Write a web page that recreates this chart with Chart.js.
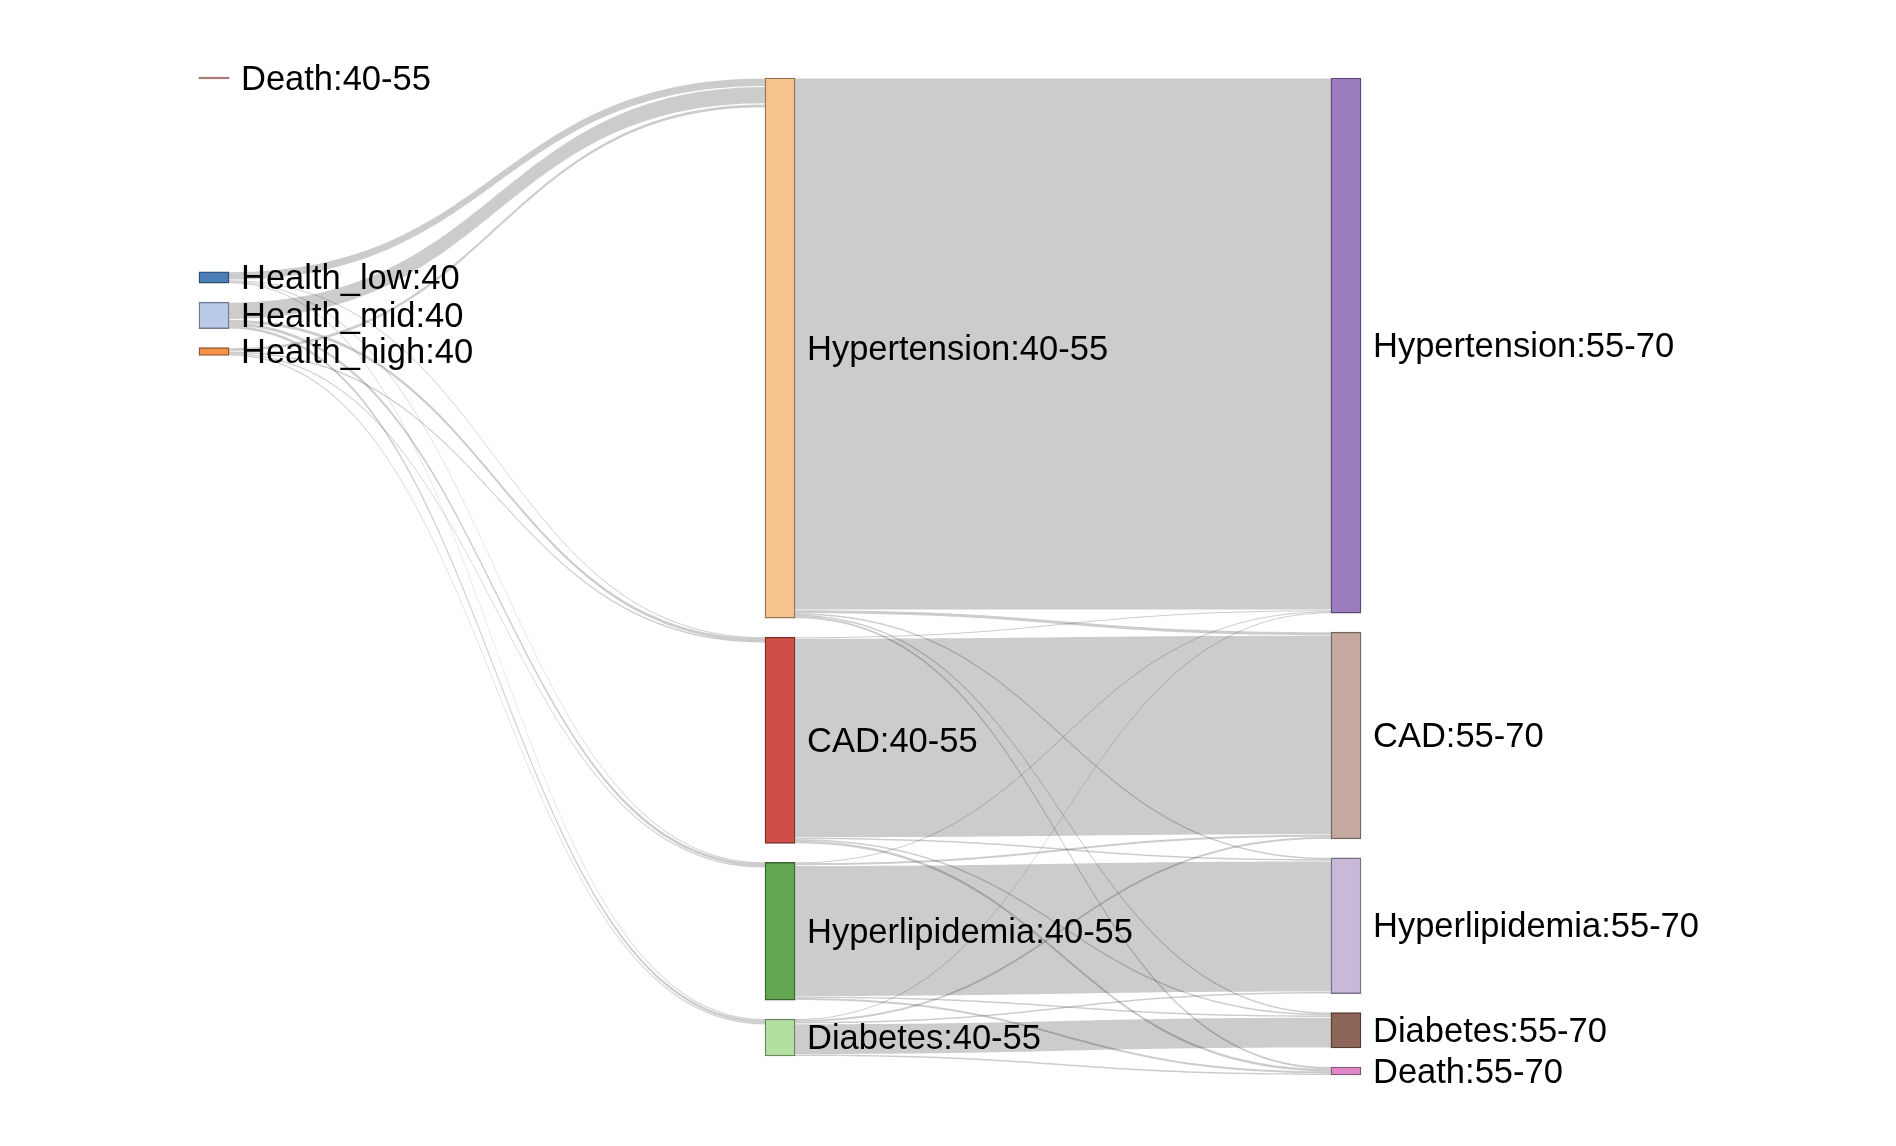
<!DOCTYPE html>
<html>
<head>
<meta charset="utf-8">
<script src="https://cdn.jsdelivr.net/npm/chart.js@4.4.1/dist/chart.umd.min.js"></script>
<style>
html,body{margin:0;padding:0;background:#ffffff;}
canvas{display:block;}
</style>
</head>
<body>
<canvas id="c" width="1896" height="1146"></canvas>
<script>
// ---------------- DATA ----------------
const nodeLabels = [
  'Death:40-55', 'Health_low:40', 'Health_mid:40', 'Health_high:40',
  'Hypertension:40-55', 'CAD:40-55', 'Hyperlipidemia:40-55', 'Diabetes:40-55',
  'Hypertension:55-70', 'CAD:55-70', 'Hyperlipidemia:55-70', 'Diabetes:55-70', 'Death:55-70'
];
const nodeColumns = [0, 0, 0, 0, 1, 1, 1, 1, 2, 2, 2, 2, 2];

const linkSources = [
  1, 1, 1, 1,
  2, 2, 2, 2,
  3, 3, 3, 3,
  4, 4, 4, 4, 4,
  5, 5, 5, 5, 5,
  6, 6, 6, 6, 6,
  7, 7, 7, 7, 7
];
const linkTargets = [
  4, 5, 6, 7,
  4, 5, 6, 7,
  4, 5, 6, 7,
  8, 9, 10, 11, 12,
  8, 9, 10, 11, 12,
  8, 9, 10, 11, 12,
  8, 9, 10, 11, 12
];
const linkValues = [
  8.5, 1, 1, 1,
  17.5, 3, 3, 3,
  4, 1.3, 1.3, 1.3,
  533, 3, 1.5, 1.5, 2,
  1, 200, 1.5, 1.5, 2.5,
  1, 2, 131.5, 1.5, 2,
  1, 2, 1.5, 31, 1.5
];

// ---------------- STYLE / LAYOUT ----------------
const nodeColors = [
  '#a97b78', '#4a7fb8', '#b9cbe8', '#f4914a',
  '#f6c48f', '#cf4e48', '#62a651', '#b2e0a0',
  '#9b7cbe', '#c5a9a1', '#c9b9d9', '#8e6559', '#df88c8'
];
const LAYOUT = {
  nodePad: 19,            // gap between nodes, in value units
  column0BlockStart: 194, // where the linked nodes of column 0 start, value units
  labelGap: 12,
  font: '34.5px "Liberation Sans", Arial, Helvetica, sans-serif',
  linkColor: 'rgba(0,0,0,0.2)'
};

// ---------------- SANKEY LAYOUT (value space) ----------------
const nNodes = nodeLabels.length;
const inSum = new Array(nNodes).fill(0), outSum = new Array(nNodes).fill(0);
linkValues.forEach((v, i) => { outSum[linkSources[i]] += v; inSum[linkTargets[i]] += v; });
const nodeValues = nodeLabels.map((_, i) => Math.max(inSum[i], outSum[i]));

const nodeTop = new Array(nNodes).fill(0);
let yMax = 0;
[0, 1, 2].forEach(col => {
  let y = 0;
  let placedLinked = false;
  nodeLabels.forEach((_, i) => {
    if (nodeColumns[i] !== col) return;
    if (col === 0 && nodeValues[i] > 0 && !placedLinked) { y = LAYOUT.column0BlockStart; placedLinked = true; }
    nodeTop[i] = y;
    y += nodeValues[i] + (nodeValues[i] > 0 ? LAYOUT.nodePad : 0);
  });
  yMax = Math.max(yMax, y - LAYOUT.nodePad);
});

// link offsets inside nodes
const order = linkValues.map((_, i) => i);
const srcOff = new Array(linkValues.length), tgtOff = new Array(linkValues.length);
nodeLabels.forEach((_, n) => {
  const outs = order.filter(i => linkSources[i] === n).sort((a, b) => nodeTop[linkTargets[a]] - nodeTop[linkTargets[b]]);
  let o = nodeTop[n];
  outs.forEach(i => { srcOff[i] = o; o += linkValues[i]; });
  const ins = order.filter(i => linkTargets[i] === n).sort((a, b) => nodeTop[linkSources[a]] - nodeTop[linkSources[b]]);
  o = nodeTop[n];
  ins.forEach(i => { tgtOff[i] = o; o += linkValues[i]; });
});

function darker(hex, f) {
  const r = parseInt(hex.slice(1, 3), 16), g = parseInt(hex.slice(3, 5), 16), b = parseInt(hex.slice(5, 7), 16);
  return `rgb(${Math.round(r * f)},${Math.round(g * f)},${Math.round(b * f)})`;
}

const sankeyPlugin = {
  id: 'sankeyLinks',
  beforeDatasetsDraw(chart) {
    const ctx = chart.ctx, ys = chart.scales.y;
    const bars = chart.getDatasetMeta(0).data;
    ctx.save();
    ctx.fillStyle = LAYOUT.linkColor;
    linkValues.forEach((v, i) => {
      const s = bars[linkSources[i]], t = bars[linkTargets[i]];
      const x0 = s.x + s.width / 2, x1 = t.x - t.width / 2;
      let a0 = ys.getPixelForValue(srcOff[i]), a1 = ys.getPixelForValue(srcOff[i] + v);
      let b0 = ys.getPixelForValue(tgtOff[i]), b1 = ys.getPixelForValue(tgtOff[i] + v);
      const w = Math.abs(a1 - a0);
      if (w > 3) { const ins = 0.6; a0 += ins; a1 -= ins; b0 += ins; b1 -= ins; }
      const xm = (x0 + x1) / 2;
      ctx.beginPath();
      ctx.moveTo(x0, a0);
      ctx.bezierCurveTo(xm, a0, xm, b0, x1, b0);
      ctx.lineTo(x1, b1);
      ctx.bezierCurveTo(xm, b1, xm, a1, x0, a1);
      ctx.closePath();
      ctx.fill();
    });
    ctx.restore();
  },
  afterDatasetsDraw(chart) {
    const ctx = chart.ctx;
    const bars = chart.getDatasetMeta(0).data;
    ctx.save();
    ctx.font = LAYOUT.font;
    ctx.fillStyle = '#000000';
    ctx.textBaseline = 'middle';
    ctx.textAlign = 'left';
    bars.forEach((b, i) => {
      const cy = (b.y + b.base) / 2;
      ctx.fillText(nodeLabels[i], b.x + b.width / 2 + LAYOUT.labelGap, cy + 2);
    });
    ctx.restore();
  }
};

new Chart(document.getElementById('c'), {
  type: 'bar',
  data: {
    datasets: [{
      data: nodeLabels.map((_, i) => ({ x: nodeColumns[i], y: [nodeTop[i], nodeTop[i] + nodeValues[i]] })),
      backgroundColor: nodeColors,
      borderColor: nodeColors.map((c, i) => nodeValues[i] > 0 ? darker(c, 0.6) : c),
      borderWidth: nodeValues.map(v => v > 0 ? 1.4 : 0),
      borderSkipped: false,
      barThickness: 30,
      minBarLength: 1.5,
      clip: false
    }]
  },
  plugins: [sankeyPlugin],
  options: {
    responsive: false,
    animation: false,
    events: [],
    layout: { padding: { left: 214, right: 550, top: 78, bottom: 71 } },
    plugins: { legend: { display: false }, tooltip: { enabled: false } },
    scales: {
      x: { type: 'linear', min: 0, max: 2, display: false, offset: false },
      y: { type: 'linear', min: 0, max: yMax, reverse: true, display: false }
    }
  }
});
</script>
</body>
</html>
